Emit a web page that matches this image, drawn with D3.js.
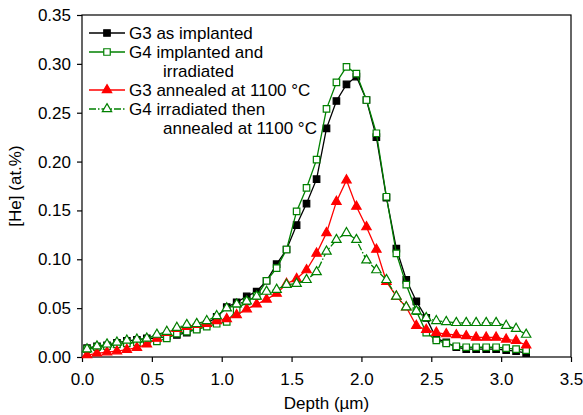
<!DOCTYPE html>
<html>
<head>
<meta charset="utf-8">
<script src="https://cdn.jsdelivr.net/npm/d3@7"></script>
<style>
  body { margin: 0; background: #fff; }
  text { font-family: "Liberation Sans", Arial, sans-serif; }
</style>
</head>
<body>
<div id="chartContainer"></div>
<script>
'use strict';

// Depth of each measured point (µm)
const depth = [0.036, 0.107, 0.179, 0.250, 0.321, 0.393, 0.464, 0.536, 0.607, 0.679,
    0.750, 0.821, 0.893, 0.964, 1.036, 1.107, 1.179, 1.250, 1.321, 1.393,
    1.464, 1.536, 1.607, 1.679, 1.750, 1.821, 1.893, 1.964, 2.036, 2.107,
    2.179, 2.250, 2.321, 2.393, 2.464, 2.536, 2.607, 2.679, 2.750, 2.821,
    2.893, 2.964, 3.036, 3.107, 3.179];

// [He] concentration (at.%) for each sample
const g3Implanted = [0.009, 0.011, 0.012, 0.0145, 0.0165, 0.0175, 0.019, 0.019, 0.021, 0.0225,
    0.025, 0.029, 0.034, 0.041, 0.051, 0.056, 0.062, 0.067, 0.078, 0.095,
    0.110, 0.135, 0.157, 0.182, 0.234, 0.262, 0.279, 0.287, 0.263, 0.225,
    0.163, 0.111, 0.079, 0.057, 0.040, 0.019, 0.015, 0.010, 0.008, 0.008,
    0.008, 0.008, 0.007, 0.006, 0.004];

const g4Irradiated = [0.008, 0.010, 0.011, 0.013, 0.014, 0.015, 0.016, 0.016, 0.019, 0.024,
    0.026, 0.028, 0.031, 0.034, 0.036, 0.048, 0.057, 0.0625, 0.078, 0.091,
    0.110, 0.149, 0.173, 0.202, 0.254, 0.281, 0.297, 0.290, 0.263, 0.229,
    0.164, 0.106, 0.074, 0.047, 0.025, 0.017, 0.014, 0.011, 0.010, 0.010,
    0.010, 0.010, 0.009, 0.008, 0.007];

const g3Annealed = [0.002, 0.0038, 0.005, 0.006, 0.0075, 0.0096, 0.013, 0.019, 0.025, 0.029,
    0.031, 0.033, 0.034, 0.037, 0.039, 0.043, 0.049, 0.054, 0.059, 0.065,
    0.075, 0.080, 0.089, 0.106, 0.127, 0.159, 0.181, 0.154, 0.133, 0.110,
    0.077, 0.062, 0.051, 0.032, 0.028, 0.025, 0.0235, 0.0225, 0.0215, 0.020,
    0.020, 0.020, 0.018, 0.0167, 0.012];

const g4Annealed = [0.008, 0.011, 0.013, 0.015, 0.017, 0.018, 0.019, 0.023, 0.026, 0.030,
    0.033, 0.034, 0.037, 0.042, 0.050, 0.054, 0.057, 0.062, 0.067, 0.069,
    0.074, 0.075, 0.079, 0.087, 0.108, 0.120, 0.127, 0.120, 0.099, 0.089,
    0.079, 0.062, 0.051, 0.047, 0.040, 0.037, 0.036, 0.035, 0.035, 0.035,
    0.035, 0.035, 0.032, 0.029, 0.023];

const xTicks = [0.0, 0.5, 1.0, 1.5, 2.0, 2.5, 3.0, 3.5];
const yTicks = [0.00, 0.05, 0.10, 0.15, 0.20, 0.25, 0.30, 0.35];

// Series description: legend lines, colour, marker and line style
const series = [
    { label: ["G3 as implanted"], values: g3Implanted, color: "#000000", symbol: d3.symbolSquare, filled: true, dash: null },
    { label: ["G4 implanted and", "irradiated"], values: g4Irradiated, color: "#008000", symbol: d3.symbolSquare, filled: false, dash: null },
    { label: ["G3 annealed at 1100 \u00B0C"], values: g3Annealed, color: "#ff0000", symbol: d3.symbolTriangle, filled: true, dash: null },
    { label: ["G4 irradiated then", "annealed at 1100 \u00B0C"], values: g4Annealed, color: "#008000", symbol: d3.symbolTriangle, filled: false, dash: "7,2,1.5,2" }
];

const fontSize = "17px";
const width = 583, height = 415;
const marginLeft = 82, marginRight = 12, marginTop = 15, marginBottom = 58;
const innerW = width - marginLeft - marginRight;
const innerH = height - marginTop - marginBottom;

const svg = d3.select("#chartContainer")
    .append("svg")
    .attr("width", width)
    .attr("height", height);

const g = svg.append("g")
    .attr("transform", "translate(" + marginLeft + "," + marginTop + ")");

const x = d3.scaleLinear().domain([0, 3.5]).range([0, innerW]);
const y = d3.scaleLinear().domain([0, 0.35]).range([innerH, 0]);

// Axes
const xAxis = g.append("g")
    .attr("transform", "translate(0," + innerH + ")")
    .call(d3.axisBottom(x).tickValues(xTicks).tickFormat(d3.format(".1f")).tickSize(5).tickPadding(11));

const yAxis = g.append("g")
    .call(d3.axisLeft(y).tickValues(yTicks).tickFormat(d3.format(".2f")).tickSize(5).tickPadding(6));

[xAxis, yAxis].forEach(a => {
    a.select(".domain").remove();
    a.selectAll("line").attr("stroke", "#000").attr("stroke-width", 1.2);
    a.selectAll("text").attr("fill", "#000").style("font-size", fontSize)
        .style("font-family", "'Liberation Sans', Arial, sans-serif");
});

// Frame round the plot
g.append("rect")
    .attr("x", 0).attr("y", 0)
    .attr("width", innerW).attr("height", innerH)
    .attr("fill", "none")
    .attr("stroke", "#000")
    .attr("stroke-width", 1.2);

// Axis titles
svg.append("text")
    .attr("x", marginLeft + innerW / 2)
    .attr("y", 409)
    .attr("text-anchor", "middle")
    .style("font-size", fontSize)
    .text("Depth (\u00B5m)");

svg.append("text")
    .attr("transform", "translate(21," + (marginTop + innerH / 2) + ") rotate(-90)")
    .attr("text-anchor", "middle")
    .style("font-size", fontSize)
    .text("[He] (at.%)");

// Lines and markers
const line = d3.line()
    .x((d, i) => x(depth[i]))
    .y(d => y(d));

const markerPath = (s) => d3.symbol().type(s.symbol).size(s.symbol === d3.symbolSquare ? 42 : 38)();

series.forEach(s => {
    g.append("path")
        .datum(s.values)
        .attr("fill", "none")
        .attr("stroke", s.color)
        .attr("stroke-width", 1.3)
        .attr("stroke-dasharray", s.dash)
        .attr("d", line);

    g.selectAll(null)
        .data(s.values)
        .enter()
        .append("path")
        .attr("d", markerPath(s))
        .attr("transform", (d, i) => "translate(" + x(depth[i]) + "," + y(d) + ")")
        .attr("fill", s.filled ? s.color : "#fff")
        .attr("stroke", s.color)
        .attr("stroke-width", 1.2);
});

// Legend
const legend = svg.append("g").attr("transform", "translate(89,33)");
let row = 0;
series.forEach(s => {
    const ly = row * 19;
    legend.append("line")
        .attr("x1", 0).attr("x2", 36)
        .attr("y1", ly).attr("y2", ly)
        .attr("stroke", s.color)
        .attr("stroke-width", 1.3)
        .attr("stroke-dasharray", s.dash);
    legend.append("path")
        .attr("d", markerPath(s))
        .attr("transform", "translate(18," + ly + ")")
        .attr("fill", s.filled ? s.color : "#fff")
        .attr("stroke", s.color)
        .attr("stroke-width", 1.2);
    s.label.forEach((t, k) => {
        legend.append("text")
            .attr("x", k === 0 ? 40 : 74)
            .attr("y", ly + k * 19)
            .attr("dy", "0.35em")
            .style("font-size", fontSize)
            .text(t);
    });
    row += s.label.length;
});
</script>
</body>
</html>
